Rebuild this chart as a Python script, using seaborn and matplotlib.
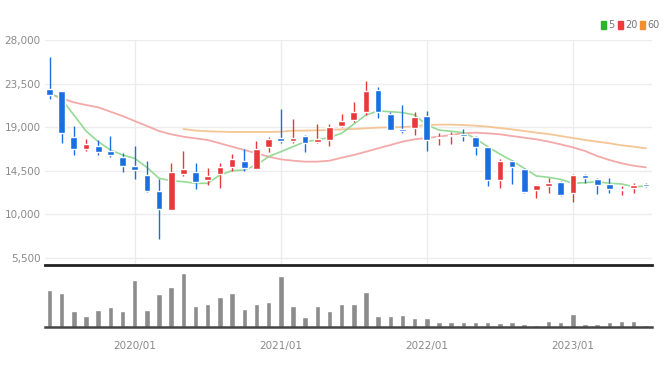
import numpy as np
import pandas as pd
import matplotlib
matplotlib.use("Agg")
import matplotlib.pyplot as plt
import seaborn as sns

# monthly candles, 2019/06 .. 2023/07
months = [str(p).replace("-", "/") for p in pd.period_range("2019-06", periods=50, freq="M")]

open_ = [22900, 22760, 18000, 16730, 17070, 16520, 15940, 14970, 14040, 12420,
         10420, 14140, 14390, 13520, 14110, 14830, 15490, 14700, 16970, 17900,
         17560, 18070, 17450, 17660, 19110, 19730, 20520, 22830, 20350, 18830,
         18870, 20180, 17870, 18070, 18280, 18000, 16900, 13520, 15490, 14630,
         12490, 12900, 13350, 12140, 14040, 13590, 13080, 12490, 12660, 13080]
high = [26280, 22760, 19110, 17760, 17660, 18110, 16280, 17040, 15490, 13590,
        15250, 16560, 15250, 14730, 15250, 16210, 16690, 17590, 18000, 20870,
        19830, 18180, 19310, 19310, 20350, 21620, 23800, 23170, 20590, 21280,
        20590, 20690, 18350, 18520, 18800, 18070, 16970, 15660, 15590, 14730,
        13010, 13700, 13420, 14140, 14140, 13700, 13700, 12900, 13180, 13250]
low = [21860, 17320, 16110, 16520, 16110, 15940, 14390, 13590, 12320, 7390,
       10420, 13940, 12560, 13010, 12660, 14490, 14490, 14700, 16450, 17320,
       17320, 16450, 17320, 17040, 18970, 19560, 20250, 19900, 18690, 18420,
       18180, 16560, 17140, 17250, 17590, 16110, 12900, 12660, 13110, 12140,
       11630, 12210, 11900, 11280, 13180, 12080, 12140, 11970, 12140, 12830]
close = [22310, 18350, 16690, 17210, 16450, 16070, 14970, 14560, 12390, 10520,
         14320, 14630, 13350, 13970, 14830, 15660, 14730, 16730, 17760, 17590,
         17830, 17320, 17730, 18970, 19660, 20590, 22760, 20590, 18690, 18560,
         20070, 17660, 17940, 18180, 18070, 16970, 13520, 15520, 14830, 12320,
         13010, 13250, 11970, 14040, 13760, 13010, 12590, 12560, 13010, 12940]

ma5 = [22550, 21870, 20250, 18590, 17490, 16630, 16110, 15760, 14830, 13700,
       13450, 13350, 13180, 13180, 14040, 14490, 14560, 15070, 15940, 16450,
       16970, 17490, 17660, 17940, 18350, 19310, 20250, 20660, 20590, 20490,
       20250, 19210, 18690, 18560, 18420, 17830, 16970, 16210, 15520, 14730,
       13940, 13800, 13590, 13180, 13250, 13350, 13180, 13110, 12830, 12900]
ma20 = [22490, 21970, 21550, 21280, 21040, 20590, 20140, 19620, 19110, 18590,
        18250, 18000, 17830, 17660, 17320, 16970, 16630, 16280, 15940, 15660,
        15520, 15420, 15420, 15520, 15830, 16110, 16450, 16800, 17140, 17490,
        17730, 17870, 18000, 18180, 18350, 18420, 18350, 18250, 18070, 17900,
        17730, 17490, 17210, 16900, 16520, 16000, 15590, 15250, 15000, 14830]
# 60-month line only visible from 2020/05
ma60 = [None] * 11 + [
        18800, 18630, 18560, 18520, 18490, 18490, 18490, 18490, 18520, 18630,
        18630, 18660, 18690, 18760, 18800, 18870, 18940, 18970, 19000, 19070,
        19210, 19250, 19250, 19210, 19140, 19040, 18900, 18760, 18590, 18420,
        18280, 18070, 17870, 17660, 17490, 17320, 17110, 16970, 16800]

volume = [112, 102, 47, 32, 52, 59, 47, 142, 52, 99,
          122, 164, 62, 69, 89, 104, 54, 69, 74, 154,
          62, 29, 62, 47, 69, 69, 107, 34, 32, 37,
          27, 27, 14, 14, 14, 14, 14, 12, 14, 9,
          6, 17, 14, 39, 9, 9, 14, 19, 17, 7]

tick_labels = ["2020/01", "2021/01", "2022/01", "2023/01"]
price_ticks = [5500, 10000, 14500, 19000, 23500, 28000]

df = pd.DataFrame({"month": months, "open": open_, "high": high, "low": low,
                   "close": close, "ma5": ma5, "ma20": ma20, "ma60": ma60,
                   "volume": np.array(volume) * 1000})
df["x"] = np.arange(len(df))
df["ma60"] = pd.to_numeric(df["ma60"])

sns.set_style("white")
plt.rcParams["font.family"] = ["Liberation Sans Narrow", "DejaVu Sans"]

RED = "#e8393a"
BLUE = "#1a6fe0"
GRID = "#ececec"

fig = plt.figure(figsize=(6.7, 3.68), dpi=100)
ax = fig.add_axes([45 / 670, 1 - 265 / 368, 607 / 670, 225 / 368])
axv = fig.add_axes([45 / 670, 1 - 327 / 368, 607 / 670, 62 / 368], sharex=ax)

tick_x = [df.index[df["month"] == t][0] for t in tick_labels]

# price panel
for y in price_ticks:
    ax.axhline(y, color=GRID, lw=1, zorder=0)
for t in tick_x:
    ax.axvline(t, color=GRID, lw=1, zorder=0)

sns.lineplot(data=df, x="x", y="ma20", ax=ax, color="#f29a9a", lw=1.3, alpha=0.85, zorder=2)
sns.lineplot(data=df, x="x", y="ma60", ax=ax, color="#f4bf8a", lw=1.3, alpha=0.9, zorder=2)
sns.lineplot(data=df, x="x", y="ma5", ax=ax, color="#8fd88f", lw=1.2, alpha=0.95, zorder=3)

up = df["close"] >= df["open"]
colors = np.where(up, RED, BLUE)
body_lo = np.minimum(df["open"], df["close"])
body_h = np.maximum(np.abs(df["close"] - df["open"]), 120)
ax.vlines(df["x"], df["low"], df["high"], colors=colors, lw=1, zorder=4)
ax.bar(df["x"], body_h, bottom=body_lo, width=0.55, color=colors, zorder=5)

ax.set_ylim(4735, 28000)
ax.set_yticks(price_ticks)
ax.set_yticklabels([f"{v:,}" for v in price_ticks], color="#8a8a8a", fontsize=7.5)
ax.tick_params(axis="y", length=0, pad=3)
ax.tick_params(axis="x", length=0, labelbottom=False)
ax.set_xlabel("")
ax.set_ylabel("")
for s in ax.spines.values():
    s.set_visible(False)

# volume panel
axv.bar(df["x"], df["volume"], width=0.45, color="#8c8c8c", zorder=2)
axv.set_xlim(-0.37, 49.5)
axv.set_ylim(0, 187000)
axv.set_yticks([])
axv.set_xticks(tick_x)
axv.set_xticklabels(tick_labels, color="#8a8a8a", fontsize=7.5)
axv.tick_params(axis="x", length=4, width=1, color="#444444", pad=6)
axv.set_xlabel("")
axv.set_ylabel("")
for side in ["left", "right"]:
    axv.spines[side].set_visible(False)
axv.spines["top"].set_color("#222222")
axv.spines["top"].set_linewidth(2)
axv.spines["bottom"].set_color("#444444")
axv.spines["bottom"].set_linewidth(1.8)

# legend boxes top right
legend_items = [("5", "#2bb52b"), ("20", "#ee3b3b"), ("60", "#f0902a")]
lx = 601 / 670
for label, col in legend_items:
    fig.patches.append(plt.Rectangle((lx, 1 - 29 / 368), 5 / 670, 8 / 368,
                                     transform=fig.transFigure, color=col, figure=fig))
    fig.text(lx + 7 / 670, 1 - 25 / 368, label, fontsize=7, color="#777777", va="center")
    lx += (12 + 5 * len(label)) / 670

fig.savefig("out.png", dpi=100)
